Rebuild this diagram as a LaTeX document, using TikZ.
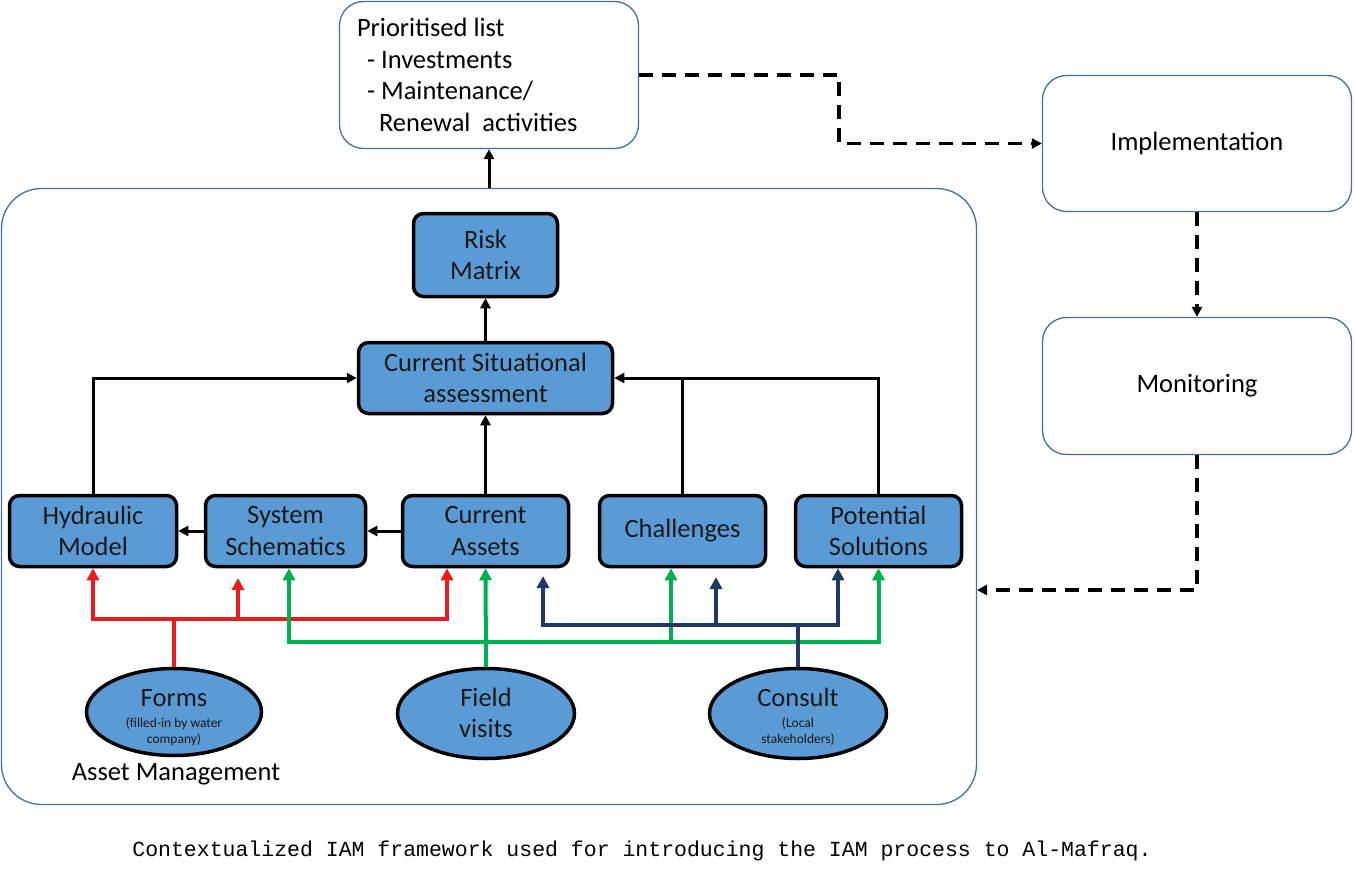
\documentclass[tikz,border=0pt]{standalone}
\usepackage{fontspec}
\setmainfont{Carlito}
\newfontfamily\capfont{Liberation Mono}
\usetikzlibrary{arrows.meta,shapes.geometric}
\definecolor{boxblue}{RGB}{91,155,213}
\definecolor{edgeblue}{RGB}{65,113,156}
\definecolor{lred}{RGB}{232,28,28}
\definecolor{lgreen}{RGB}{0,176,80}
\definecolor{lnavy}{RGB}{31,56,100}
\newcommand{\bigf}{\fontsize{26.5}{31.5}\selectfont}
\newcommand{\smallf}{\fontsize{13.5}{15.5}\selectfont}
\newcommand{\elltext}[2]{\makebox[0pt]{\raisebox{#1}{\smash{\parbox{150pt}{\centering #2}}}}}
\tikzset{
  bbox/.style={draw=black, line width=3.5pt, fill=boxblue, rounded corners=10pt, align=center,
    inner sep=0pt, font=\bigf, text=black!90},
  obox/.style={draw=edgeblue, line width=1.3pt, fill=white, rounded corners=24pt, inner sep=0pt,
    font=\bigf},
  ell/.style={draw=black, line width=3.5pt, fill=boxblue, ellipse, inner sep=0pt,
    minimum width=175pt, minimum height=87pt, text=black!90},
  blk/.style={line width=3pt, -{Triangle[length=10pt,width=10pt]}},
  blkn/.style={line width=3pt},
  colr/.style={line width=4pt, draw=#1, -{Triangle[length=12pt,width=12pt]}},
  coln/.style={line width=4pt, draw=#1},
  dsh/.style={line width=3.5pt, dash pattern=on 14pt off 9pt, -{Triangle[length=10pt,width=10pt]}},
}
\begin{document}
\begin{tikzpicture}[x=1pt,y=-1pt]
\useasboundingbox (0,0) rectangle (1355,888);
% frames
\node[obox, rounded corners=40pt, minimum width=975pt, minimum height=616pt] (frame) at (489,496.5) {};
\node[obox, minimum width=299pt, minimum height=147pt] (plist) at (489,75)
  {\makebox[264pt][l]{\parbox{264pt}{\bigf Prioritised list\\
   \hspace*{10pt}- Investments\\
   \hspace*{10pt}- Maintenance/\\
   \hspace*{22pt}Renewal\ \ activities}}};
\node[obox, minimum width=309pt, minimum height=136pt] (impl) at (1197,143.5) {Implementation};
\node[obox, minimum width=309pt, minimum height=137pt] (mon) at (1197,386) {Monitoring};
% blue boxes
\node[bbox, minimum width=144pt, minimum height=83pt] (rm) at (485.5,255) {Risk\\Matrix};
\node[bbox, minimum width=254pt, minimum height=71pt] (csa) at (485.5,378) {Current Situational\\assessment};
\node[bbox, minimum width=167pt, minimum height=71pt] (hyd) at (93,531) {Hydraulic\\Model};
\node[bbox, minimum width=160pt, minimum height=71pt] (ss) at (285.5,531) {System\\Schematics};
\node[bbox, minimum width=166pt, minimum height=71pt] (ca) at (485.5,531) {Current\\Assets};
\node[bbox, minimum width=166pt, minimum height=71pt] (ch) at (682.5,531) {Challenges};
\node[bbox, minimum width=166pt, minimum height=71pt] (ps) at (878.5,531) {Potential\\Solutions};
% ellipses
\node[ell] (forms) at (174,712)
  {\elltext{-16pt}{\smallf{\bigf Forms}\\[6pt]{(filled-in by water}\\{company)}}};
\node[ell, minimum width=177pt, minimum height=90pt] (fv) at (486,713.5)
  {\elltext{-4pt}{\bigf Field\\visits}};
\node[ell, minimum width=177pt, minimum height=90pt] (cons) at (798,713.5)
  {\elltext{-10.5pt}{\smallf{\bigf Consult}\\[6pt]{(Local}\\{stakeholders)}}};
\node[font=\bigf] (am) at (176,774) {Asset Management};
% black connectors
\draw[blk] (frame.north) -- (plist.south);
\draw[blk] (csa.north) -- (rm.south);
\draw[blk] (ca.north) -- (csa.south);
\draw[blk] (hyd.north) |- (csa.west);
\draw[blk] (ps.north) |- (csa.east);
\draw[blkn] (ch.north) -- (ch.north |- csa.east);
\draw[blk] (ca.west) -- (ss.east);
\draw[blk] (ss.west) -- (hyd.east);
% red
\coordinate (rj) at (174,619);
\coordinate (ssr) at (238,578);
\draw[coln=lred] (forms.north) -- (rj);
\draw[colr=lred] (rj) -| (hyd.south);
\draw[colr=lred] (rj) -| (ssr);
\draw[colr=lred] (rj) -| ([xshift=-38.5pt]ca.south);
% green
\coordinate (gj) at (486,642);
\draw[colr=lgreen] (fv.north) -- (ca.south);
\draw[colr=lgreen] (gj) -| ([xshift=3.5pt]ss.south);
\draw[colr=lgreen] (gj) -| ([xshift=-11.5pt]ch.south);
\draw[colr=lgreen] (gj) -| (ps.south);
% navy
\coordinate (nj) at (798,625);
\coordinate (car) at (543,576);
\coordinate (chr) at (716,577);
\draw[coln=lnavy] (cons.north) -- (nj);
\draw[colr=lnavy] (nj) -| (car);
\draw[colr=lnavy] (nj) -| (chr);
\draw[colr=lnavy] (nj) -| ([xshift=-40.5pt]ps.south);
% dashed
\coordinate (d1) at (839,110);
\coordinate (fe) at (977,590);
\draw[dsh] (plist.east) -| (d1) |- (impl.west);
\draw[dsh] (impl.south) -- (mon.north);
\draw[dsh] (mon.south) |- (fe);
% caption
\node[font=\capfont\fontsize{21.5}{24}\selectfont] (cap) at (642,851) {Contextualized IAM framework used for introducing the IAM process to Al-Mafraq.};
\end{tikzpicture}
\end{document}
